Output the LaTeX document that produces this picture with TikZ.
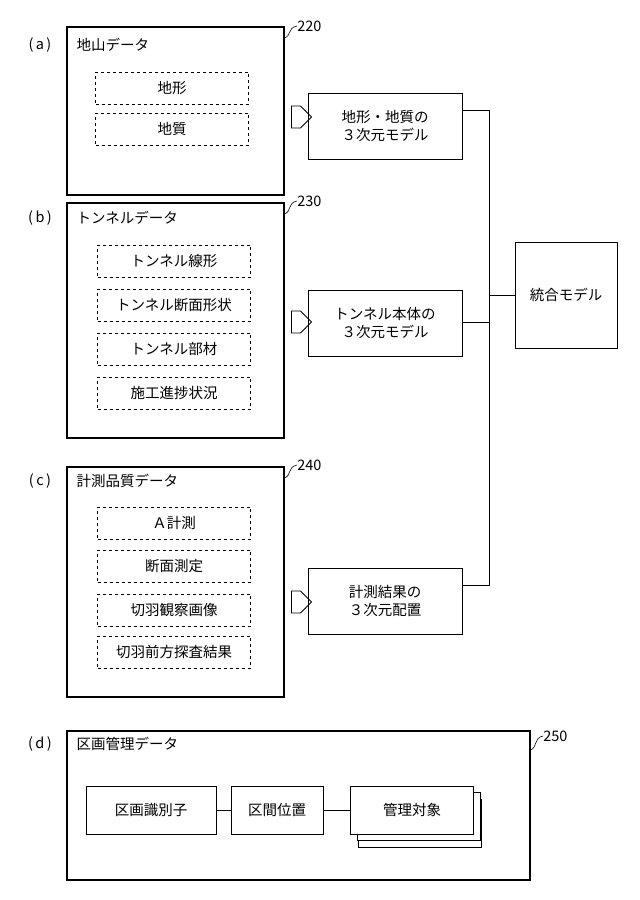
\documentclass[tikz,border=0pt]{standalone}
\usepackage{fontspec}
\setmainfont{Noto Sans CJK JP}
\usetikzlibrary{shapes.arrows}
\tikzset{
  outer/.style={draw, line width=1.3pt},
  item/.style={draw, dashed, minimum width=153pt, minimum height=32pt, inner sep=0pt},
  model/.style={draw, minimum width=154pt, minimum height=66pt, align=center, inner sep=0pt},
  cell/.style={draw, fill=white, minimum height=48pt, inner sep=0pt},
  hollow/.style={draw, single arrow, minimum width=22pt, single arrow head extend=0pt, single arrow head indent=0pt, minimum height=20pt, inner sep=0pt, line width=0.8pt, text width=0pt, text height=10pt},
  lead/.style={line width=0.6pt}
}
\begin{document}
\begin{tikzpicture}[x=1pt,y=-1pt,font=\fontsize{14.5}{18}\selectfont]
          \useasboundingbox (0,0) rectangle (640,900);

          % (a)
          \draw [outer] (67,27) rectangle (284,195);
          \node (ta) at (40,45) {(\,a\,)};
          \node [anchor=west] (ha) at (73,45) {地山データ};
          \node [item] (a1) at (172,88) {地形};
          \node [item] (a2) at (172,129) {地質};
          \node [hollow] (pa) at (296,117) {};
          \node [model] (ma) at (385,126) {地形・地質の\\３次元モデル};
          \draw [lead] (284,38) .. controls (292,36) and (287,28) .. (297,26) node [anchor=west, inner sep=0pt] (na) {220};

          % (b)
          \draw [outer] (67,203) rectangle (284,438);
          \node (tb) at (40,218) {(\,b\,)};
          \node [anchor=west] (hb) at (73,218) {トンネルデータ};
          \node [item] (b1) at (174,261) {トンネル線形};
          \node [item] (b2) at (174,305) {トンネル断面形状};
          \node [item] (b3) at (174,349) {トンネル部材};
          \node [item] (b4) at (174,393) {施工進捗状況};
          \node [hollow] (pb) at (296,322) {};
          \node [model] (mb) at (385,323) {トンネル本体の\\３次元モデル};
          \draw [lead] (284,214) .. controls (292,212) and (287,203) .. (297,201) node [anchor=west, inner sep=0pt] (nb) {230};

          % (c)
          \draw [outer] (67,467) rectangle (284,697);
          \node (tc) at (40,481) {(\,c\,)};
          \node [anchor=west] (hc) at (73,481) {計測品質データ};
          \node [item] (c1) at (174,523) {Ａ計測};
          \node [item] (c2) at (174,566) {断面測定};
          \node [item] (c3) at (174,610) {切羽観察画像};
          \node [item] (c4) at (174,652) {切羽前方探査結果};
          \node [hollow] (pc) at (296,602) {};
          \node [model] (mc) at (385,601) {計測結果の\\３次元配置};
          \draw [lead] (284,478) .. controls (292,476) and (287,467) .. (297,465) node [anchor=west, inner sep=0pt] (nc) {240};

          % unified model
          \node [draw, minimum width=102pt, minimum height=106pt] (u) at (566,295) {統合モデル};
          \coordinate (j1) at (489,110);
          \coordinate (j2) at (489,585);
          \coordinate (j3) at (489,322);
          \draw (ma.east |- j1) -- (j1) -- (j2) -- (mc.east |- j2);
          \draw (mb.east |- j3) -- (j3);
          \draw (j1 |- u.west) -- (u.west);

          % (d)
          \draw [outer] (67,731) rectangle (530,880);
          \node (td) at (40,744) {(\,d\,)};
          \node [anchor=west] (hd) at (73,744) {区画管理データ};
          \node [cell, minimum width=123pt] (s3b) at (420,823) {};
          \node [cell, minimum width=123pt] (s3a) at (419,816) {};
          \node [cell, minimum width=123pt] (s3) at (412,810) {管理対象};
          \node [cell, minimum width=130pt] (s1) at (151,810) {区画識別子};
          \node [cell, minimum width=92pt] (s2) at (277,810) {区間位置};
          \draw (s1) -- (s2);
          \draw (s2) -- (s3);
          \draw [lead] (530,750) .. controls (538,748) and (533,738) .. (543,736) node [anchor=west, inner sep=0pt] (nd) {250};
        \end{tikzpicture}
\end{document}
